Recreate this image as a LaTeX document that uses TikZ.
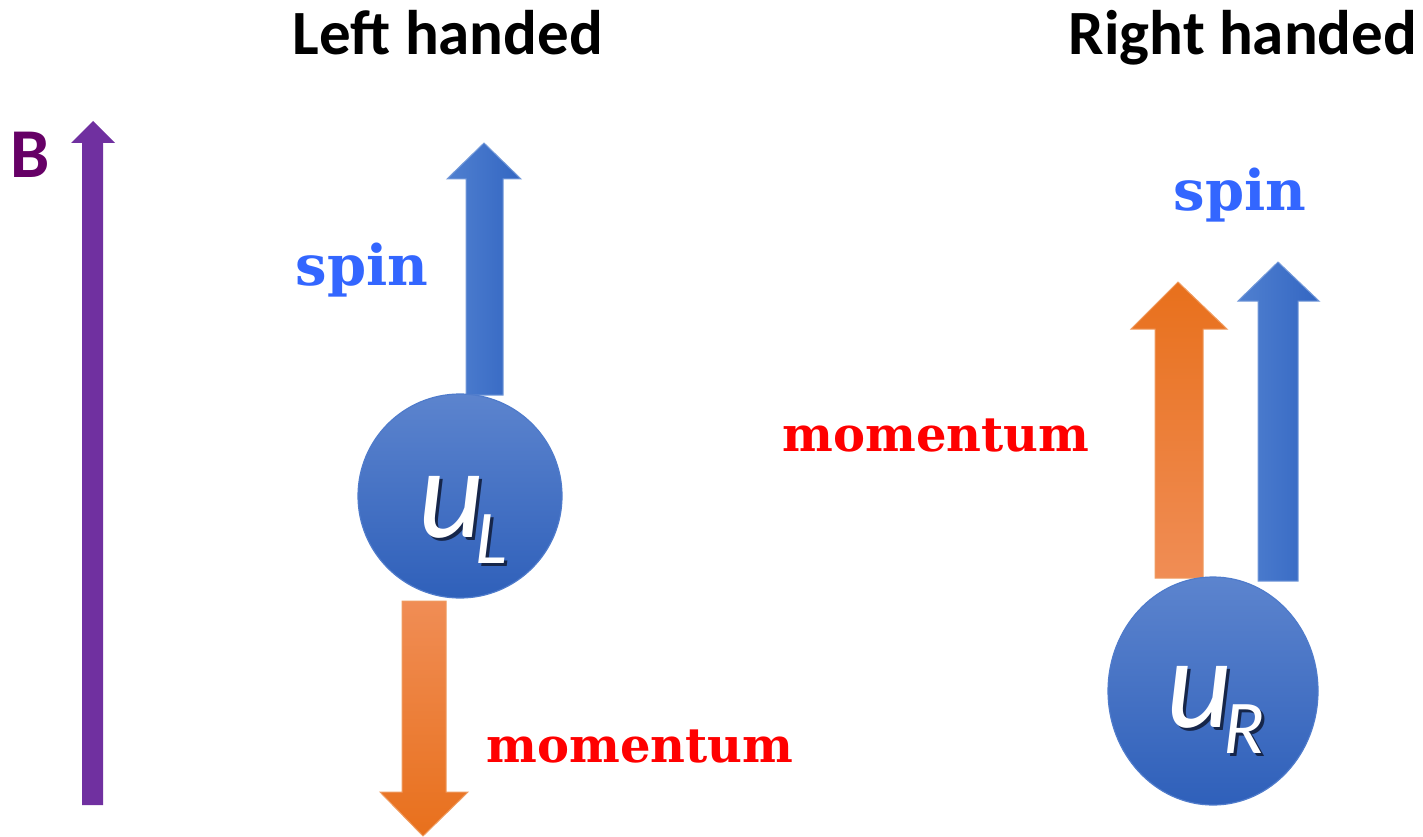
\documentclass[tikz,border=0pt]{standalone}
\usepackage{fontspec}
\setmainfont{Carlito}
\newfontfamily\labelfont{DejaVu Serif}
\usetikzlibrary{shadings}
\definecolor{bpurple}{HTML}{7030A0}
\definecolor{btext}{HTML}{660066}
\definecolor{spinblue}{HTML}{3366FF}
\definecolor{arrblueL}{HTML}{5080D0}
\definecolor{arrblueR}{HTML}{3366C2}
\definecolor{orangeLight}{HTML}{F08D55}
\definecolor{orangeDark}{HTML}{E8701C}
\definecolor{ballTop}{HTML}{5C84CE}
\definecolor{ballBot}{HTML}{2F60BA}
\definecolor{ballEdge}{HTML}{4F7BCB}
\definecolor{shadowcol}{HTML}{16264A}
\newcommand\shtext[1]{\makebox[0pt][l]{\hspace{3pt}\raisebox{-3pt}{\color{shadowcol}#1}}#1}
\newcommand\ballsym[1]{\shtext{u}\hspace{-9pt}\raisebox{-26pt}{\fontsize{76}{76}\selectfont\shtext{#1}}}
\tikzset{
  heading/.style={font=\fontsize{63}{63}\selectfont\bfseries, anchor=base, inner sep=0pt},
  spinlbl/.style={font=\labelfont\bfseries\fontsize{56}{56}\selectfont, text=spinblue, anchor=base, inner sep=0pt},
  momlbl/.style={font=\labelfont\bfseries\fontsize{48}{48}\selectfont, text=red, anchor=base, inner sep=0pt},
  bluearrow/.style={left color=arrblueL, right color=arrblueR, draw=arrblueL!80!white, line width=1pt},
  ball/.style={top color=ballTop, bottom color=ballBot, draw=ballEdge, line width=1.2pt},
  balltext/.style={font=\fontsize{128}{128}\selectfont\itshape, text=white, anchor=base west, inner sep=0pt},
}
\begin{document}
\begin{tikzpicture}[x=1pt,y=-1pt]
\useasboundingbox (0,0) rectangle (1423,837);
% headings
\node[heading] (lh) at (448,55) {Left handed};
\node[heading] (rh) at (1243,55) {Right handed};
% B field
\node[font=\fontsize{70}{70}\selectfont\bfseries, text=btext, anchor=base, inner sep=0pt] (B) at (30,178) {B};
\fill[bpurple] (82,805) -- (82,143) -- (71,143) -- (93,121) -- (115,143) -- (103,143) -- (103,805) -- cycle;
% left handed arrows
\shade[bluearrow] (466,395) -- (466,179) -- (447,179) -- (484,143) -- (521,179) -- (503,179) -- (503,395) -- cycle;
\shade[top color=orangeLight, bottom color=orangeDark, draw=orangeDark!70!white, line width=1pt]
  (402,601) -- (446,601) -- (446,792) -- (468,792) -- (423,836) -- (380,792) -- (402,792) -- cycle;
% right handed arrows
\shade[top color=orangeDark, bottom color=orangeLight, draw=orangeDark!70!white, line width=1pt]
  (1155,578) -- (1155,329) -- (1131,329) -- (1178,282) -- (1227,329) -- (1203,329) -- (1203,578) -- cycle;
\shade[bluearrow] (1258,581) -- (1258,301) -- (1238,301) -- (1278,262) -- (1319,301) -- (1298,301) -- (1298,581) -- cycle;
% balls
\shade[ball] (460,496) circle[radius=102];
\shade[ball] (1213,691) ellipse[x radius=105, y radius=114];
% ball labels
\node[balltext] (uL) at (418,537) {\ballsym{L}};
\node[balltext] (uR) at (1166,727) {\ballsym{R}};
% labels
\node[spinlbl] (spinL) at (362,285) {spin};
\node[spinlbl] (spinR) at (1240,210) {spin};
\node[momlbl] (momL) at (640,762) {momentum};
\node[momlbl] (momR) at (936,451) {momentum};
\end{tikzpicture}
\end{document}
